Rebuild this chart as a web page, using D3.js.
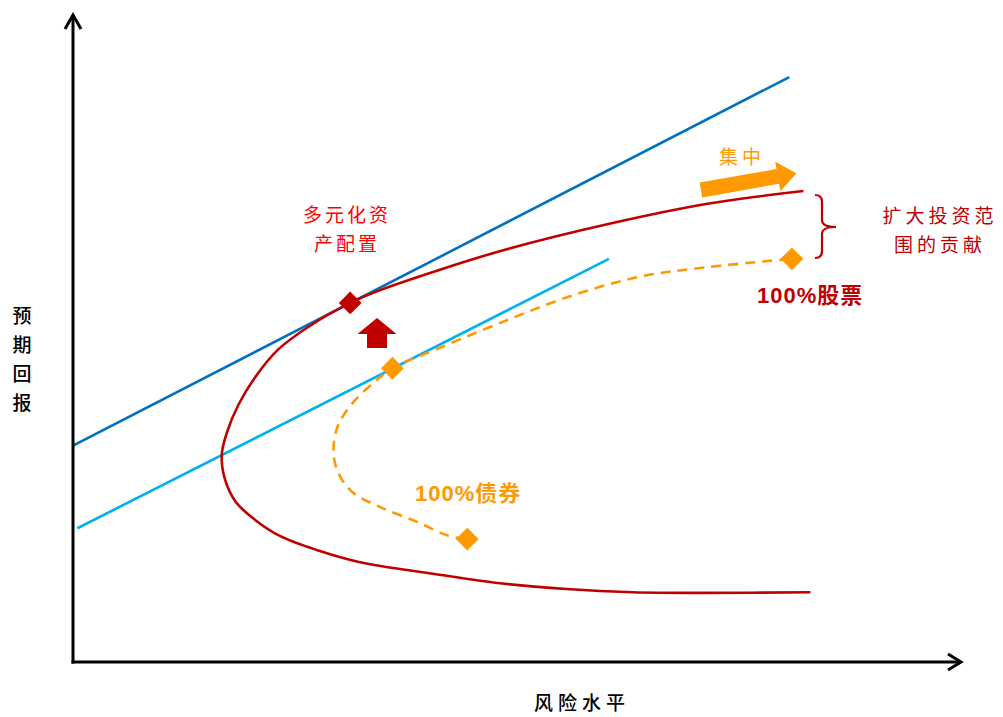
<!DOCTYPE html>
<html><head><meta charset="utf-8">
<script src="https://cdn.jsdelivr.net/npm/d3@7"></script>
<style>
html,body{margin:0;padding:0;background:#fff;}
svg{display:block;}
.cjk{font-family:"Noto Sans CJK SC","Noto Sans",sans-serif;}
.num{font-family:"Liberation Sans","Noto Sans CJK SC",sans-serif;font-weight:bold;}
</style>
</head><body>
<svg id="chart" width="1003" height="717"></svg>
<script>
// ---- data (risk units 0-10, return units 0-10) ----
const frontierRisk   = [8.38,7.13,6.36,5.61,4.85,4.09,3.26,2.77,2.35,2.07,1.85,1.73,1.69,1.75,1.88,2.07,2.33,2.69,3.15,3.41,4.17,4.93,6.07,7.21,8.30];
const frontierReturn = [1.09,1.08,1.09,1.14,1.23,1.38,1.56,1.75,1.97,2.22,2.50,2.84,3.23,3.59,4.02,4.45,4.88,5.25,5.61,5.77,6.13,6.45,6.84,7.16,7.36];

const assetRisk   = [4.46,4.25,3.91,3.49,3.17,3.01,2.96,3.01,3.18,3.43,3.63,4.17,4.93,5.68,6.44,7.21,8.17];
const assetReturn = [1.92,1.98,2.19,2.42,2.66,2.97,3.31,3.69,4.05,4.38,4.59,4.91,5.34,5.73,6.02,6.17,6.30];

const cmlOuterRisk = [0, 8.14],   cmlOuterReturn = [3.38, 9.14];
const cmlInnerRisk = [0.05, 6.09], cmlInnerReturn = [2.09, 6.30];

const markerNames  = ["多元化资产配置","切点组合","100%债券","100%股票"];
const markerRisk   = [3.15, 3.63, 4.48, 8.17];
const markerReturn = [5.61, 4.59, 1.92, 6.30];
const markerKind   = ["frontier","asset","asset","asset"];

const axisTitleX = "风险水平";
const axisTitleY = ["预","期","回","报"];

// ---- layout ----
const svg = d3.select("#chart");
const x = d3.scaleLinear().domain([0,10]).range([73,953]);
const y = d3.scaleLinear().domain([0,10]).range([662,22]);

const C = {darkBlue:"#0070C0", lightBlue:"#00B0F0", red:"#C00000", orange:"#FF9900", brightRed:"#FF0000"};

const line = d3.line().x(d=>x(d[0])).y(d=>y(d[1]));
const smooth = d3.line().x(d=>x(d[0])).y(d=>y(d[1])).curve(d3.curveCatmullRom.alpha(0.5));

// CML lines
svg.append("path").datum(d3.zip(cmlOuterRisk,cmlOuterReturn)).attr("d",line)
  .attr("fill","none").attr("stroke",C.darkBlue).attr("stroke-width",2.6);
svg.append("path").datum(d3.zip(cmlInnerRisk,cmlInnerReturn)).attr("d",line)
  .attr("fill","none").attr("stroke",C.lightBlue).attr("stroke-width",2.6);

// frontier
svg.append("path").datum(d3.zip(frontierRisk,frontierReturn)).attr("d",smooth)
  .attr("fill","none").attr("stroke",C.red).attr("stroke-width",2.6);

// asset (stock/bond) dashed curve
svg.append("path").datum(d3.zip(assetRisk,assetReturn)).attr("d",smooth)
  .attr("fill","none").attr("stroke",C.orange).attr("stroke-width",2.6)
  .attr("stroke-dasharray","10,7");

// diamonds
const diamond = d3.symbol().type(d3.symbolSquare).size(260);
svg.selectAll(".mk").data(d3.range(markerRisk.length)).join("path")
  .attr("class","mk")
  .attr("d",diamond)
  .attr("transform",i=>`translate(${x(markerRisk[i])},${y(markerReturn[i])}) rotate(45)`)
  .attr("fill",i=>markerKind[i]==="frontier"?C.red:C.orange);

// axes with open arrowheads
const ax = svg.append("g").attr("stroke","#000").attr("stroke-width",3).attr("fill","none")
  .attr("stroke-linecap","butt");
ax.append("line").attr("x1",x(0)).attr("y1",y(0)+1.5).attr("x2",x(0)).attr("y2",15);
ax.append("path").attr("d",`M${x(0)-8},29 L${x(0)},15 L${x(0)+8},29`);
ax.append("line").attr("x1",x(0)-1.5).attr("y1",y(0)).attr("x2",961).attr("y2",y(0));
ax.append("path").attr("d",`M948,${y(0)-8} L961,${y(0)} L948,${y(0)+8}`);

// axis titles
svg.append("text").attr("class","cjk").attr("x",582).attr("y",710)
  .attr("text-anchor","middle").attr("font-size",19).attr("letter-spacing",5)
  .attr("font-weight",500).attr("fill","#000").text(axisTitleX);
svg.selectAll(".yt").data(axisTitleY).join("text").attr("class","cjk yt")
  .attr("x",22).attr("y",(d,i)=>323+i*29).attr("text-anchor","middle")
  .attr("font-size",19).attr("font-weight",500).attr("fill","#000").text(d=>d);

// red up arrow (improvement)
const ua = {cx:377, tip:318};
svg.append("path").attr("fill",C.red)
  .attr("d",`M${ua.cx},${ua.tip} L${ua.cx+19.5},${ua.tip+16} L${ua.cx+10},${ua.tip+16} L${ua.cx+10},${ua.tip+30} L${ua.cx-10},${ua.tip+30} L${ua.cx-10},${ua.tip+16} L${ua.cx-19.5},${ua.tip+16} Z`);

// orange arrow "集中"
svg.append("path").attr("fill",C.orange)
  .attr("transform","translate(701,190) rotate(-10)")
  .attr("d","M0,-7.5 L78,-7.5 L78,-15 L97,0 L78,15 L78,7.5 L0,7.5 Z");
svg.append("text").attr("class","cjk").attr("x",742).attr("y",164)
  .attr("text-anchor","middle").attr("font-size",19).attr("letter-spacing",4)
  .attr("fill",C.orange).text("集中");

// bracket
svg.append("path").attr("fill","none").attr("stroke",C.red).attr("stroke-width",2.2)
  .attr("d","M815,195 Q822,195 822,202 L822,220 Q822,227 836,227 Q822,227 822,234 L822,251 Q822,258 815,258");

// labels
const lbl1 = svg.append("text").attr("class","cjk").attr("fill",C.brightRed)
  .attr("font-size",19).attr("letter-spacing",3).attr("text-anchor","middle");
lbl1.append("tspan").attr("x",347).attr("y",222).text("多元化资");
lbl1.append("tspan").attr("x",347).attr("y",251).text("产配置");

const lbl2 = svg.append("text").attr("class","cjk").attr("fill",C.red)
  .attr("font-size",19).attr("letter-spacing",4).attr("text-anchor","middle");
lbl2.append("tspan").attr("x",940).attr("y",223).text("扩大投资范");
lbl2.append("tspan").attr("x",940).attr("y",252).text("围的贡献");

svg.append("text").attr("class","num").attr("x",757).attr("y",303)
  .attr("font-size",22).attr("letter-spacing",1).attr("fill",C.red).text("100%股票");
svg.append("text").attr("class","num").attr("x",415).attr("y",501)
  .attr("font-size",22).attr("letter-spacing",1).attr("fill",C.orange).text("100%债券");
</script>
</body></html>
